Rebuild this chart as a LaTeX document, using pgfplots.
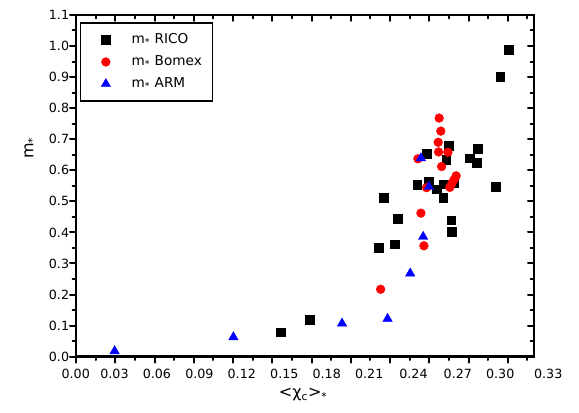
\documentclass[border=0pt]{standalone}
\usepackage{fontspec}
\setmainfont{DejaVu Sans}
\usepackage{pgfplots}
\pgfplotsset{compat=1.18}
\newcommand\tickfont{\fontsize{9.5}{11}\selectfont}
\begin{document}
\begin{tikzpicture}[x=1pt,y=1pt]
\useasboundingbox (0,0) rectangle (434.25,309);
\pgfplotsset{
  frame/.style={
    at={(57pt,41.5pt)}, anchor=south west,
    scale only axis, width=343.5pt, height=256.3pt,
    xmin=0, xmax=0.35, ymin=0, ymax=1.1,
    xtick={0,0.03,0.06,0.09,0.12,0.15,0.18,0.21,0.24,0.27,0.30,0.33},
    minor xtick={0.015,0.045,0.075,0.105,0.135,0.165,0.195,0.225,0.255,0.285,0.315,0.345},
    ytick={0,0.1,0.2,0.3,0.4,0.5,0.6,0.7,0.8,0.9,1.0,1.1},
    minor ytick={0.05,0.15,0.25,0.35,0.45,0.55,0.65,0.75,0.85,0.95,1.05},
    major tick length=4.5pt, minor tick length=2.5pt,
    every tick/.style={black, line width=1.5pt, line cap=round},
    axis line style={line width=1.8pt, line cap=rect},
    xticklabels={},
  }
}
\begin{axis}[frame,
  xtick pos=left, ytick pos=left, tick align=outside,
  clip=false,
  yticklabel style={font=\tickfont, inner xsep=0.5pt,
    /pgf/number format/.cd, fixed, fixed zerofill, precision=1, assume math mode=true},
  ylabel={m\textsubscript{*}},
  ylabel style={at={(axis description cs:-0.100,0.611)}, anchor=center, font=\fontsize{12}{14}\selectfont},
  xlabel={<χ\textsubscript{c}>\textsubscript{*}},
  xlabel style={at={(axis description cs:0.496,-0.112)}, anchor=center, font=\fontsize{12}{14}\selectfont},
  legend style={at={(axis description cs:0.008,0.978)}, anchor=north west,
    draw=black, line width=1.3pt, font=\fontsize{10.2}{12}\selectfont,
    inner xsep=6pt, inner ysep=7pt, row sep=5.5pt,
    nodes={inner xsep=2pt, inner ysep=0pt, text height=8pt, text depth=3pt},
    /tikz/every odd column/.append style={column sep=4.4pt}},
  legend cell align=left,
  legend image code/.code={\path[draw=none,fill=none] (-13pt,-3pt) rectangle (13pt,3pt); \draw[#1] plot coordinates {(0pt,0pt)};},
]
\addplot[only marks, mark=square*, mark size=3.3pt, mark options={fill=black, draw=black, line width=0.3pt}]
coordinates {
(0.1566,0.079) (0.1785,0.118) (0.2312,0.350) (0.2353,0.512) (0.2435,0.362)
(0.2460,0.443) (0.2607,0.553) (0.2679,0.653) (0.2694,0.563) (0.2756,0.539)
(0.2806,0.511) (0.2811,0.555) (0.2829,0.634) (0.2847,0.678) (0.2867,0.439)
(0.2870,0.401) (0.2890,0.560) (0.3008,0.639) (0.3069,0.669) (0.3063,0.624)
(0.3209,0.547) (0.3241,0.901) (0.3308,0.988)
};
\addlegendentry{m\textsubscript{*} RICO}
\addplot[only marks, mark=*, mark size=3.3pt, mark options={fill=red, draw=red, line width=0.3pt}]
coordinates {
(0.2328,0.217) (0.2659,0.357) (0.2636,0.462) (0.2679,0.544) (0.2613,0.637)
(0.2775,0.768) (0.2788,0.726) (0.2768,0.690) (0.2771,0.659) (0.2842,0.658)
(0.2794,0.612) (0.2905,0.582) (0.2888,0.569) (0.2872,0.557) (0.2857,0.545)
};
\addlegendentry{m\textsubscript{*} Bomex}
\addplot[only marks, mark=triangle*, mark size=4.1pt, mark options={fill=blue, draw=blue, line width=0.3pt}]
coordinates {
(0.0295,0.018) (0.1203,0.063) (0.2033,0.107) (0.2381,0.122) (0.2554,0.268)
(0.2653,0.386) (0.2697,0.547) (0.2636,0.639)
};
\addlegendentry{m\textsubscript{*} ARM}
\node[anchor=north, inner sep=0pt, font=\tickfont, yshift=-9.2pt] at (axis cs:-0.0002,0) {0.00};
\node[anchor=north, inner sep=0pt, font=\tickfont, yshift=-9.2pt] at (axis cs:0.0294,0) {0.03};
\node[anchor=north, inner sep=0pt, font=\tickfont, yshift=-9.2pt] at (axis cs:0.0618,0) {0.06};
\node[anchor=north, inner sep=0pt, font=\tickfont, yshift=-9.2pt] at (axis cs:0.0943,0) {0.09};
\node[anchor=north, inner sep=0pt, font=\tickfont, yshift=-9.2pt] at (axis cs:0.1267,0) {0.12};
\node[anchor=north, inner sep=0pt, font=\tickfont, yshift=-9.2pt] at (axis cs:0.1592,0) {0.15};
\node[anchor=north, inner sep=0pt, font=\tickfont, yshift=-9.2pt] at (axis cs:0.1916,0) {0.18};
\node[anchor=north, inner sep=0pt, font=\tickfont, yshift=-9.2pt] at (axis cs:0.2241,0) {0.21};
\node[anchor=north, inner sep=0pt, font=\tickfont, yshift=-9.2pt] at (axis cs:0.2579,0) {0.24};
\node[anchor=north, inner sep=0pt, font=\tickfont, yshift=-9.2pt] at (axis cs:0.2918,0) {0.27};
\node[anchor=north, inner sep=0pt, font=\tickfont, yshift=-9.2pt] at (axis cs:0.3242,0) {0.30};
\node[anchor=north, inner sep=0pt, font=\tickfont, yshift=-9.2pt] at (axis cs:0.3609,0) {0.33};
\end{axis}
\begin{axis}[frame,
  xtick pos=right, ytick pos=right, tick align=inside,
  yticklabels={},
]
\end{axis}
\end{tikzpicture}
\end{document}
